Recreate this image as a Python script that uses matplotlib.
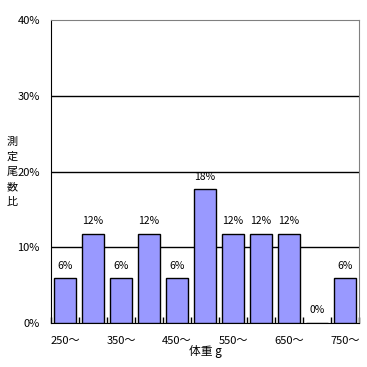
import numpy as np
import matplotlib
matplotlib.use('Agg')
import matplotlib.pyplot as plt

plt.rcParams['font.family'] = ['Noto Sans CJK JP', 'DejaVu Sans']

categories = ['250〜', '300〜', '350〜', '400〜', '450〜', '500〜',
              '550〜', '600〜', '650〜', '700〜', '750〜']
counts = [1, 2, 1, 2, 1, 3, 2, 2, 2, 0, 1]
total = sum(counts)
ratios = [100 * c / total for c in counts]
shown_ticks = [0, 2, 4, 6, 8, 10]
ylabel_chars = list('測定尾数比')

fig = plt.figure(figsize=(3.67, 3.67), dpi=100)
ax = fig.add_axes([51/367, 44/367, 308/367, 303/367])

x = np.arange(len(categories))
bars = ax.bar(x, ratios, 0.78, color='#9999ff', edgecolor='black', linewidth=1, zorder=3)
for r, v in zip(bars, ratios):
    ax.text(r.get_x() + r.get_width()/2, v + 1.0, f'{v:.0f}%', ha='center', va='bottom',
            fontsize=7.5)

ax.set_xlim(-0.5, len(categories) - 0.5)
ax.set_ylim(0, 40)
ax.set_yticks([0, 10, 20, 30, 40], ['0%', '10%', '20%', '30%', '40%'], fontsize=8)
for yv in [10, 20, 30]:
    ax.axhline(yv, color='black', linewidth=1, zorder=1)
ax.set_xticks([x[i] for i in shown_ticks], [categories[i] for i in shown_ticks], fontsize=8)
ax.tick_params(axis='x', length=0, pad=9)
ax.set_xticks(np.arange(len(categories) + 1) - 0.5, minor=True)
ax.tick_params(axis='x', which='minor', direction='in', length=4, width=1)
ax.tick_params(axis='y', length=0, pad=8)

ax.spines['left'].set_color('black')
ax.spines['bottom'].set_color('black')
ax.spines['top'].set_color('#808080')
ax.spines['right'].set_color('#808080')

fig.text(205/367, 1 - 352/367, '体重 g', ha='center', va='center', fontsize=8.5)
for i, ch in enumerate(ylabel_chars):
    fig.text(12/367, 1 - (142 + 15 * i)/367, ch, ha='center', va='center', fontsize=8)

fig.savefig('out.png', dpi=100)
